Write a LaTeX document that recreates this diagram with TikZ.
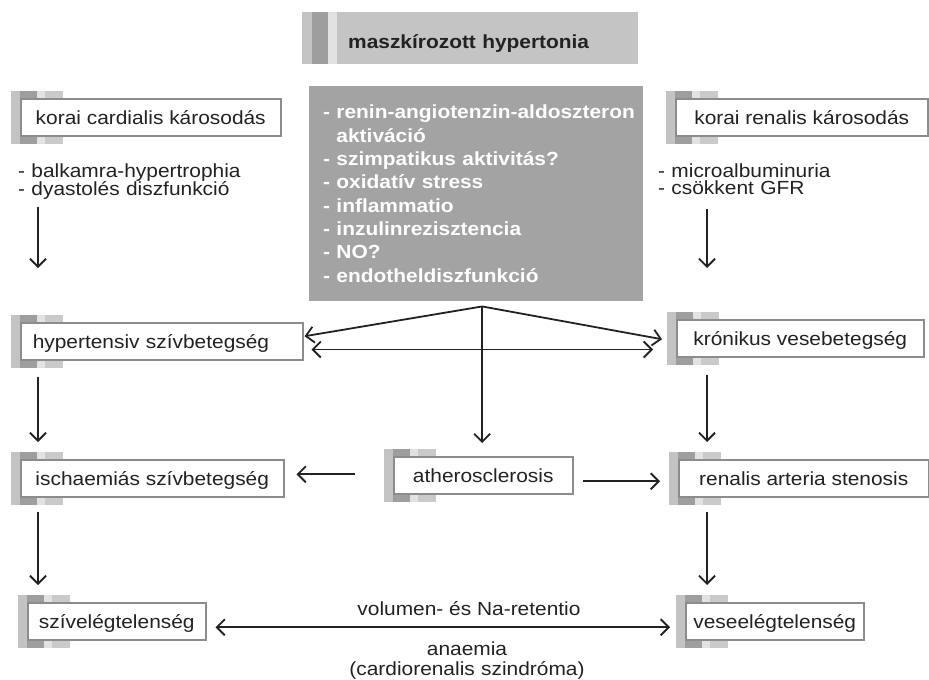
\documentclass[tikz,border=0pt]{standalone}
\usepackage{fontspec}
\setmainfont[FakeStretch=1.1]{Liberation Sans}
\usetikzlibrary{arrows.meta,positioning,calc,backgrounds}
\definecolor{ink}{RGB}{34,34,34}
\definecolor{boxline}{RGB}{140,140,140}
\definecolor{tabouter}{RGB}{195,195,195}
\definecolor{tabdark}{RGB}{158,158,158}
\definecolor{tablight}{RGB}{226,226,226}
\definecolor{tabmid}{RGB}{202,202,202}
\definecolor{titlefill}{RGB}{196,196,196}
\definecolor{factorfill}{RGB}{163,163,163}

\begin{document}
\setlength{\lineskiplimit}{-20pt}
\begin{tikzpicture}[x=1pt,y=-1pt,font=\fontsize{19}{22}\selectfont,
  dx/.style={draw=boxline,line width=1.5pt,fill=white,text=ink,inner sep=0pt,text height=25.5pt,text depth=11.5pt,minimum width=#1,anchor=north west},
  lst/.style={text=ink,inner sep=0pt,text width=260pt,align=left,anchor=base west,font=\fontsize{19}{17.5}\selectfont},
  arr/.style={draw=ink,line width=1.8pt,-{Straight Barb[length=8pt,width=16pt]}},
  darr/.style={draw=ink,line width=1.8pt,{Straight Barb[length=8pt,width=16pt]}-{Straight Barb[length=8pt,width=16pt]}},
  lbl/.style={text=ink,inner sep=0pt,anchor=base}]
\useasboundingbox (0,0) rectangle (929,680);

\node[fill=titlefill,text=ink,font=\fontsize{19}{22}\selectfont\bfseries,inner sep=0pt,text height=36pt,text depth=16pt,minimum width=301pt,text width=279pt,align=left,anchor=north west] (title) at (337,12) {maszkírozott hypertonia};
\fill[tabouter] ($(title.north west)+(-35,0)$) rectangle ($(title.south west)+(-25,0)$);
\fill[tabdark] ($(title.north west)+(-25,0)$) rectangle ($(title.south west)+(-9,0)$);
\fill[tablight] ($(title.north west)+(-9,0)$) rectangle (title.south west);

\node[fill=factorfill,text=white,font=\fontsize{19}{23.3}\selectfont\bfseries,inner xsep=14pt,inner ysep=19pt,text width=306pt,align=left,anchor=north west] (factors) at (309,86) {\mbox{- renin-angiotenzin-aldoszteron}\\\phantom{- }aktiváció\\- szimpatikus aktivitás?\\- oxidatív stress\\- inflammatio\\- inzulinrezisztencia\\- NO?\\- endotheldiszfunkció};

\node[dx=260pt] (kc) at (20,98) {korai cardialis károsodás};
\node[lst] (kclist) at (18,177) {- balkamra-hypertrophia\\- dyastolés diszfunkció};
\node[dx=252pt] (kr) at (675,98) {korai renalis károsodás};
\node[lst] (krlist) at (658,177) {- microalbuminuria\\- csökkent GFR};

\node[dx=282pt,text width=258pt,align=left] (hyp) at (20,322) {hypertensiv szívbetegség};
\node[dx=247pt] (kv) at (676,319) {krónikus vesebetegség};
\node[dx=263pt] (isch) at (20,459) {ischaemiás szívbetegség};
\node[dx=179pt] (ather) at (393,456) {atherosclerosis};
\node[dx=250pt] (ren) at (678,459) {renalis arteria stenosis};
\node[dx=178pt] (sziv) at (27,602) {szívelégtelenség};
\node[dx=178pt] (vese) at (685,602) {veseelégtelenség};

\begin{scope}[on background layer]
\foreach \n in {kc,kr,hyp,kv,isch,ather,ren,sziv,vese}{
  \fill[tabouter] ($(\n.north west)+(-9,-7)$) rectangle ($(\n.south west)+(0,7)$);
  \fill[tabdark] ($(\n.north west)+(0,-7)$) rectangle ($(\n.south west)+(17,7)$);
  \fill[tablight] ($(\n.north west)+(17,-7)$) rectangle ($(\n.south west)+(25,7)$);
  \fill[tabmid] ($(\n.north west)+(25,-7)$) rectangle ($(\n.south west)+(43,7)$);
}
\end{scope}

\coordinate (apex) at ($(factors.south)+(6,5)$);
\draw[arr] (apex) -- ($(hyp.east)+(1,-5)$);
\draw[arr] (apex) -- ($(kv.west)+(-14,1)$);
\draw[arr] (apex) -- ($(apex |- ather.north)+(0,-13)$);
\draw[darr] ($(hyp.south east)+(8,-11)$) -- ($(kv.south west |- hyp.south east)+(-23,-11)$);

\draw[arr] ($(ather.west)+(-38,-1)$) -- ($(isch.east |- ather.west)+(12,-1)$);
\draw[arr] ($(ather.east)+(9,6)$) -- ($(ren.west |- ather.east)+(-18,6)$);

\draw[arr] ($(kc.south west)+(18,70)$) -- ($(hyp.north west)+(18,-54)$);
\draw[arr] ($(hyp.south west)+(18,16)$) -- ($(isch.north west)+(18,-17)$);
\draw[arr] ($(isch.south west)+(18,14)$) -- ($(sziv.north west)+(11,-17)$);
\draw[arr] ($(kr.south west)+(32,72)$) -- ($(kv.north west)+(31,-51)$);
\draw[arr] ($(kv.south west)+(31,17)$) -- ($(ren.north west)+(29,-17)$);
\draw[arr] ($(ren.south west)+(29,14)$) -- ($(vese.north west)+(22,-17)$);

\draw[darr] ($(sziv.east)+(9,6)$) -- ($(vese.west)+(-15,6)$);
\node[lbl] (vol) at (469,615) {volumen- és Na-retentio};
\node[lbl,text width=300pt,align=center,font=\fontsize{19}{20}\selectfont] (anae) at (467,655) {anaemia\\(cardiorenalis szindróma)};
\end{tikzpicture}
\end{document}
